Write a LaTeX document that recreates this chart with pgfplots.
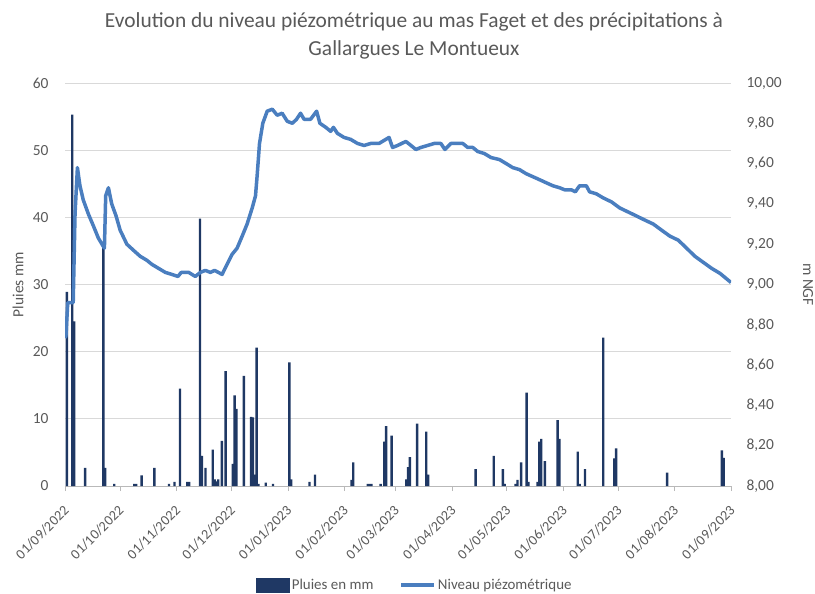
\documentclass[border=0pt]{standalone}
\usepackage{pgfplots}
\pgfplotsset{compat=1.18}
\usepackage{fontspec}
\setmainfont{Carlito}
\definecolor{navy}{HTML}{1F3864}
\definecolor{lineblue}{HTML}{4A7EBF}
\definecolor{txtgray}{HTML}{595959}
\definecolor{gridgray}{HTML}{D9D9D9}
\begin{document}
\begin{tikzpicture}
\useasboundingbox (0,0) rectangle (815bp,594bp);
\node[align=center, text=txtgray, font=\fontsize{21.5}{28}\selectfont] at (414bp,558bp)
  {Evolution du niveau piézométrique au mas Faget et des précipitations à\\Gallargues Le Montueux};
\begin{axis}[
  at={(65bp,108bp)}, anchor=south west, scale only axis,
  width=666bp, height=403bp,
  xmin=0, xmax=365, ymin=0, ymax=60,
  ytick={0,10,20,30,40,50,60},
  xtick={0,30,61,91,122,153,181,212,242,273,303,334,365},
  xticklabels={01/09/2022,01/10/2022,01/11/2022,01/12/2022,01/01/2023,01/02/2023,01/03/2023,01/04/2023,01/05/2023,01/06/2023,01/07/2023,01/08/2023,01/09/2023},
  separate axis lines,
  axis x line*=bottom, axis y line*=left,
  x axis line style={draw=gray!55, -},
  y axis line style={draw=none},
  ytick style={draw=none},
  xtick style={draw=gray!55},
  tick align=outside, major tick length=5bp,
  ymajorgrids, grid style={gridgray, line width=0.8bp},
  tick label style={text=txtgray, font=\fontsize{15.5}{18}\selectfont},
  /pgf/number format/assume math mode=true,
  xticklabel style={yshift=-15bp, xshift=4bp, rotate=45, anchor=east, font=\fontsize{14.2}{16}\selectfont},
  yticklabel style={anchor=east, xshift=-8bp},
  ylabel={Pluies mm},
  ylabel style={at={(axis description cs:-0.0706,0.5)}, anchor=center, rotate=0, text=txtgray, font=\fontsize{15.5}{18}\selectfont},
]
\addplot[ybar, bar width=2.4bp, fill=navy, draw=none] coordinates {
(1,28.9) (4,55.3) (5,24.5) (11,2.7) (21,35.4) (22,2.7) (27,0.3) (38,0.3) (39,0.3) (42,1.6)
(49,2.7) (57,0.3) (60,0.6) (63,14.5) (67,0.6) (68,0.6) (74,39.8) (75,4.5) (77,2.7) (81,5.4)
(82,1.0) (83,0.7) (84,1.0) (86,6.7) (88,17.1) (92,3.3) (93,13.5) (94,11.5) (98,16.4) (102,10.3)
(103,10.2) (104,1.7) (105,20.6) (106,0.3) (110,0.5) (114,0.3) (123,18.4) (124,1.0) (134,0.6) (137,1.7)
(157,0.9) (158,3.5) (166,0.3) (167,0.3) (168,0.3) (173,0.3) (175,6.6) (176,8.9) (179,7.5) (187,1.0)
(188,2.8) (189,4.3) (193,9.3) (198,8.1) (199,1.7) (225,2.5) (235,4.5) (240,2.5) (241,0.3) (247,0.3)
(248,0.9) (250,3.5) (253,13.9) (254,0.6) (259,0.6) (260,6.6) (261,7.0) (263,3.7) (270,9.8) (271,7.0)
(281,5.1) (282,0.3) (285,2.5) (295,22.1) (301,4.1) (302,5.6) (330,2.0) (360,5.3) (361,4.2)
};
\end{axis}
\begin{axis}[
  at={(65bp,108bp)}, anchor=south west, scale only axis,
  width=666bp, height=403bp,
  xmin=0, xmax=365, ymin=8, ymax=10,
  axis x line=none, axis y line*=right,
  y axis line style={draw=none},
  ytick style={draw=none},
  ytick={8,8.2,8.4,8.6,8.8,9,9.2,9.4,9.6,9.8,10},
  yticklabel style={anchor=west, xshift=12bp, /pgf/number format/.cd, fixed, fixed zerofill, precision=2, use comma},
  /pgf/number format/assume math mode=true,
  tick label style={text=txtgray, font=\fontsize{15.5}{18}\selectfont},
  ylabel={m NGF},
  ylabel style={at={(axis description cs:1.1156,0.5)}, anchor=center, rotate=180, text=txtgray, font=\fontsize{15.5}{18}\selectfont},
  legend style={at={(axis description cs:0.5255,-0.2457)}, anchor=center, draw=none, fill=none,
    legend columns=2, font=\fontsize{15}{17}\selectfont, text=txtgray,
    /tikz/every even column/.append style={column sep=24bp}},
]
\addlegendimage{legend image code/.code={\fill[navy] (0bp,-7bp) rectangle (33bp,7bp);}}
\addlegendentry{Pluies en mm}
\addlegendimage{legend image code/.code={\draw[line width=3.5bp, lineblue] (0bp,0bp) -- (33bp,0bp);}}
\addlegendentry{Niveau piézométrique}
\addplot[lineblue, line width=3.5bp, line join=round, forget plot] coordinates {
(0,8.75) (0.5,8.74) (1.5,8.91) (4.5,8.91) (5.5,9.35) (6.8,9.58) (8.2,9.49) (10,9.42) (12.8,9.35) (15.6,9.29)
(18.3,9.23) (21.6,9.18) (22.3,9.44) (23.8,9.48) (25.6,9.40) (28,9.34) (30.2,9.27) (33.9,9.20) (37.5,9.17) (41.2,9.14)
(44.9,9.12) (47.6,9.10) (51.3,9.08) (55,9.06) (58.6,9.05) (61.9,9.04) (63.7,9.06) (67.8,9.06) (71.4,9.04) (74.2,9.06)
(76.9,9.07) (79.7,9.06) (82,9.07) (86.1,9.05) (88.8,9.10) (91.6,9.15) (94.3,9.18) (97.1,9.24) (99.8,9.30) (102.6,9.38)
(104.4,9.44) (105.3,9.54) (106.6,9.70) (108.4,9.80) (110.8,9.86) (113.6,9.87) (116.3,9.84) (119,9.85) (121.8,9.81) (124.6,9.80)
(126.9,9.82) (129.1,9.85) (131,9.82) (134.6,9.82) (137.9,9.86) (139.7,9.80) (142.9,9.78) (145.6,9.76) (147.1,9.78) (149.3,9.75)
(152.9,9.73) (156.6,9.72) (160.3,9.70) (163.9,9.69) (167.6,9.70) (172.1,9.70) (175.8,9.72) (177.6,9.73) (179.5,9.68) (182.3,9.69)
(186.8,9.71) (189.6,9.69) (192.3,9.67) (195,9.68) (198.7,9.69) (202.4,9.70) (206,9.70) (208.2,9.67) (211.5,9.70) (215.2,9.70)
(218,9.70) (220.7,9.68) (223.5,9.68) (226.2,9.66) (229.8,9.65) (233.5,9.63) (238.1,9.62) (241.8,9.60) (245.4,9.58) (249.1,9.57)
(252.7,9.55) (256.4,9.535) (260.1,9.52) (263.7,9.505) (267.4,9.49) (271.1,9.48) (273.8,9.47) (277.5,9.47) (279.7,9.46) (282,9.49)
(285.7,9.49) (287.5,9.46) (291.2,9.45) (294.9,9.43) (299.5,9.41) (304,9.38) (308.6,9.36) (313.2,9.34) (317.7,9.32) (322.4,9.30)
(326.9,9.27) (331.5,9.24) (336.1,9.22) (340.7,9.18) (345.2,9.14) (349.8,9.11) (354.4,9.08) (359,9.055) (365,9.01)
};
\end{axis}
\end{tikzpicture}
\end{document}
